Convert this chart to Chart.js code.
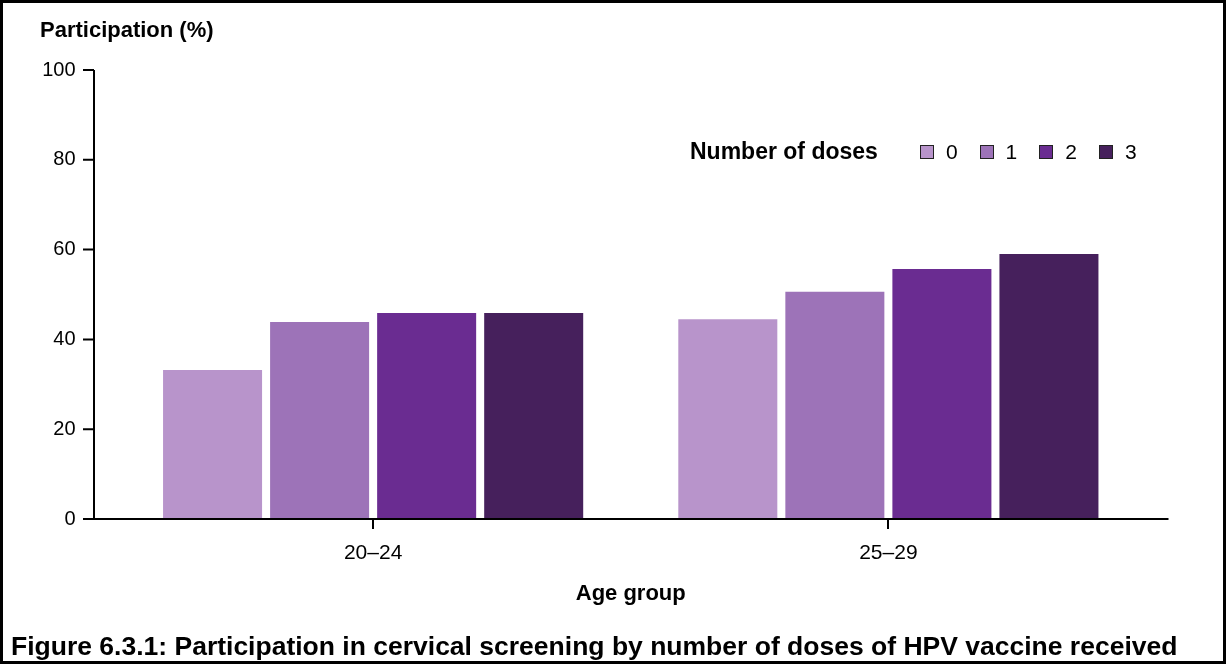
<!DOCTYPE html>
<html>
<head>
<meta charset="utf-8">
<script src="https://cdn.jsdelivr.net/npm/chart.js@4"></script>
<style>
  html, body { margin:0; padding:0; background:#fff; }
  #wrap { position:relative; width:1226px; height:664px; box-sizing:border-box; border:3px solid #000; overflow:hidden;
          font-family:"Liberation Sans", Arial, sans-serif; color:#000; }
  #chart { position:absolute; left:-3px; top:-3px; }
  .ytitle { position:absolute; left:37px; top:14px; font-weight:bold; font-size:22px; }
  .caption { position:absolute; left:8px; top:628px; font-weight:bold; font-size:26.5px; white-space:nowrap; }
  #legend { position:absolute; left:687px; top:135px; display:flex; align-items:center; font-size:21px; }
  #legend .ttl { font-weight:bold; font-size:23px; margin-right:42px; }
  #legend .item { display:flex; align-items:center; margin-right:22px; }
  #legend .box { width:12px; height:12px; border:1px solid #222; margin-right:12px; }
</style>
</head>
<body>
<div id="wrap">
  <canvas id="chart" width="1226" height="664"></canvas>
  <div class="ytitle">Participation (%)</div>
  <div id="legend"><span class="ttl">Number of doses</span></div>
  <div class="caption">Figure 6.3.1: Participation in cervical screening by number of doses of HPV vaccine received</div>
</div>
<script>
// data
const ageGroups = ["20–24", "25–29"];
const doses = ["0", "1", "2", "3"];
const dose0 = [33.2, 44.5];
const dose1 = [43.9, 50.6];
const dose2 = [45.9, 55.7];
const dose3 = [45.9, 59.0];
const yTicks = [0, 20, 40, 60, 80, 100];
const colours = ["#b894cb", "#9d73b8", "#6a2c91", "#46205c"];

const series = [dose0, dose1, dose2, dose3];

// legend in html
const leg = document.getElementById("legend");
doses.forEach((d, i) => {
  let it = document.createElement("span");
  it.className = "item";
  it.innerHTML = '<span class="box" style="background:' + colours[i] + '"></span>' + d;
  leg.appendChild(it);
});

// axis lines reach past the plot area like in the figure
const axisLines = {
  id: "axisLines",
  afterDatasetsDraw(chart){
    const {ctx, chartArea:a, scales:{y}} = chart;
    const yx = a.left - 21.5;
    ctx.save();
    ctx.strokeStyle = "#000";
    ctx.lineWidth = 2;
    ctx.beginPath();
    ctx.moveTo(yx, y.getPixelForValue(100));
    ctx.lineTo(yx, a.bottom);
    yTicks.forEach(v => {
      let py = y.getPixelForValue(v);
      ctx.moveTo(yx - 11, py); ctx.lineTo(yx, py);
    });
    ctx.moveTo(yx - 11, a.bottom);
    ctx.lineTo(a.right + 22.5, a.bottom);
    ctx.stroke();
    ctx.restore();
  }
};

const font = {family:'"Liberation Sans", Arial, sans-serif', size:20};

new Chart(document.getElementById("chart"), {
  type: "bar",
  data: {
    labels: ageGroups,
    datasets: series.map((s, i) => ({
      label: doses[i],
      data: s,
      backgroundColor: colours[i],
      categoryPercentage: 0.831,
      barPercentage: 0.925
    }))
  },
  options: {
    responsive: false,
    animation: false,
    layout: { padding: { top: 70, right: 80, bottom: 45, left: 0 } },
    plugins: { legend: { display: false }, tooltip: { enabled: false } },
    scales: {
      x: {
        grid: { display: true, offset: false, drawOnChartArea: false, drawTicks: true, tickLength: 10, color: "#000", lineWidth: 2 },
        border: { display: false },
        ticks: { color: "#000", font: {...font, size: 21}, padding: 12 },
        title: { display: true, text: "Age group", color: "#000", font: {...font, size: 22, weight: "bold"}, padding: {top: 0, bottom: 12} },
        afterFit(s){ s.height = 100; }
      },
      y: {
        min: 0, max: 100,
        afterBuildTicks(s){ s.ticks = yTicks.map(v => ({value: v})); },
        grid: { display: false, drawTicks: false },
        border: { display: false },
        ticks: { color: "#000", font: font, padding: 40 },
        afterFit(s){ s.width = 115.5; }
      }
    }
  },
  plugins: [axisLines]
});
</script>
</body>
</html>
